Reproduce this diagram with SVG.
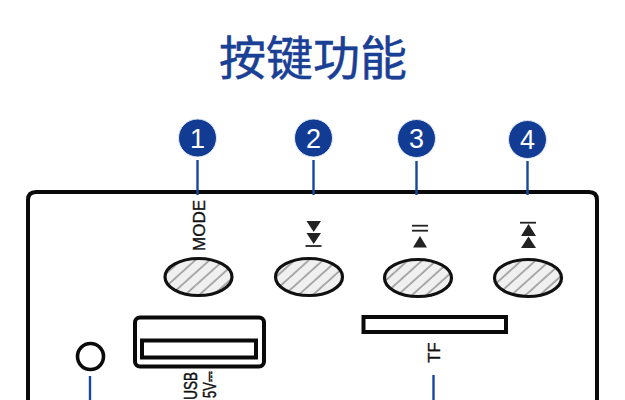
<svg xmlns="http://www.w3.org/2000/svg" width="625" height="400" viewBox="0 0 625 400">
<style>
.ln{stroke:#17479e;stroke-width:2.4;fill:none}
.badge{fill:#123c94;stroke:#dfe8f5;stroke-width:1}
.num{font:27px "Liberation Sans",Arial,sans-serif;fill:#fff;text-anchor:middle}
.blk{fill:none;stroke:#0a0a0a;stroke-width:4}
.btn{fill:url(#h);stroke:#111;stroke-width:3.200}
.lab{font-family:"Liberation Sans",Arial,sans-serif;fill:#111;stroke:#111;stroke-width:.35;text-anchor:end}
.tri{fill:#222}
.bar{stroke:#222;stroke-width:1.8}
</style>
<defs>
<pattern id="h" width="9.500" height="9.500" patternUnits="userSpaceOnUse" patternTransform="rotate(-42)">
<rect width="9.500" height="9.500" fill="#f0f0f0"/><line x1="0" y1="1" x2="9.500" y2="1" stroke="#727272" stroke-width="1.100"/>
</pattern>
</defs>
<rect width="625" height="400" fill="#fff"/>
<text id="title" x="313" y="75" text-anchor="middle" font-family="'Noto Sans CJK SC',sans-serif" font-size="47" fill="#1a4096" stroke="#1a4096" stroke-width=".5">按键功能</text>
<g id="panel"><path class="blk" d="M28 400V200Q28 192 36 192H589Q597 192 597 200V400"/></g>
<g id="connectors">
<path class="ln" d="M197.500 160V195M313.500 160V195M416.500 161V195M527.500 161V195M90 376V400M433.500 375V400"/>
</g>
<g id="n1"><circle class="badge" cx="197.500" cy="138" r="19"/><text class="num" x="197.500" y="147.500">1</text></g>
<g id="n2"><circle class="badge" cx="313.500" cy="138" r="19"/><text class="num" x="313.500" y="147.500">2</text></g>
<g id="n3"><circle class="badge" cx="416.500" cy="138.500" r="19"/><text class="num" x="416.500" y="148">3</text></g>
<g id="n4"><circle class="badge" cx="527.500" cy="139.500" r="19"/><text class="num" x="527.500" y="149">4</text></g>
<g id="btn1"><ellipse class="btn" cx="198.500" cy="277" rx="33.500" ry="18.500"/><text class="lab" font-size="17" transform="translate(205 200) rotate(-90)">MODE</text></g>
<g id="btn2"><ellipse class="btn" cx="309" cy="277" rx="33.500" ry="18.500"/><path class="tri" d="M306.500 221H321L313.700 232ZM306.500 233H321L313.700 244Z"/><line class="bar" x1="305.500" y1="246" x2="321.500" y2="246"/></g>
<g id="btn3"><ellipse class="btn" cx="418" cy="278" rx="33.500" ry="18.500"/><path class="tri" d="M413 247.500H427L420 236Z"/><line class="bar" x1="412" y1="225.700" x2="428" y2="225.700"/><line class="bar" x1="412" y1="230.700" x2="428" y2="230.700"/></g>
<g id="btn4"><ellipse class="btn" cx="528" cy="278" rx="33.500" ry="18.500"/><path class="tri" d="M521 236H536L528.500 224ZM521 248H536L528.500 236.500Z"/><line class="bar" x1="520" y1="222.700" x2="536" y2="222.700"/></g>
<g id="led"><circle cx="90.500" cy="356.500" r="13" fill="none" stroke="#0a0a0a" stroke-width="3.600"/></g>
<g id="usb"><rect class="blk" x="135" y="317.500" width="129" height="49" rx="5"/><rect class="blk" x="142" y="340.500" width="114" height="17"/>
<text class="lab" font-size="13.500" transform="translate(197 372) rotate(-90) scale(1 1.350)">USB</text>
<text class="lab" font-size="13" transform="translate(216 372) rotate(-90) scale(1 1.350)">5V⎓</text></g>
<g id="tf"><rect class="blk" x="363.500" y="317" width="142.500" height="15"/><text class="lab" font-size="16.500" transform="translate(440 342.500) rotate(-90)">TF</text></g>
</svg>
